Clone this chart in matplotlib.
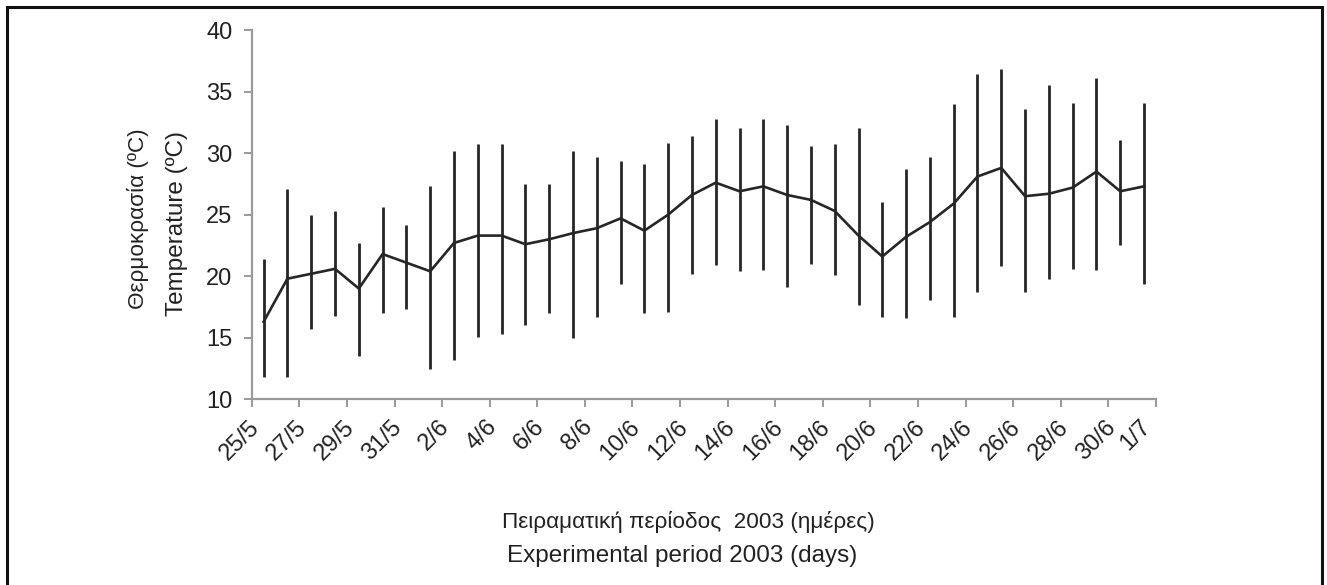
import numpy as np
import matplotlib.pyplot as plt
from matplotlib.patches import Rectangle

plt.rcParams['font.family'] = ['Liberation Sans', 'DejaVu Sans']

# Daily air temperature, 25 May - 1 July 2003
days = ['25/5', '26/5', '27/5', '28/5', '29/5', '30/5', '31/5',
        '1/6', '2/6', '3/6', '4/6', '5/6', '6/6', '7/6', '8/6', '9/6',
        '10/6', '11/6', '12/6', '13/6', '14/6', '15/6', '16/6', '17/6',
        '18/6', '19/6', '20/6', '21/6', '22/6', '23/6', '24/6', '25/6',
        '26/6', '27/6', '28/6', '29/6', '30/6', '1/7']
t_mean = [16.3, 19.8, 20.2, 20.6, 19.0, 21.8, 21.1, 20.4, 22.7, 23.3,
          23.3, 22.6, 23.0, 23.5, 23.9, 24.7, 23.7, 25.0, 26.6, 27.6,
          26.9, 27.3, 26.6, 26.2, 25.3, 23.3, 21.6, 23.2, 24.4, 25.9,
          28.1, 28.8, 26.5, 26.7, 27.2, 28.5, 26.9, 27.3]
t_max = [21.4, 27.1, 25.0, 25.3, 22.7, 25.6, 24.2, 27.3, 30.2, 30.7,
         30.7, 27.5, 27.5, 30.2, 29.7, 29.4, 29.1, 30.8, 31.4, 32.8,
         32.0, 32.8, 32.3, 30.6, 30.7, 32.0, 26.0, 28.7, 29.7, 34.0,
         36.4, 36.8, 33.6, 35.5, 34.1, 36.1, 31.1, 34.1]
t_min = [11.8, 11.8, 15.7, 16.8, 13.5, 17.0, 17.3, 12.5, 13.2, 15.1,
         15.3, 16.0, 17.0, 15.0, 16.7, 19.4, 17.0, 17.1, 20.2, 20.9,
         20.4, 20.5, 19.1, 21.0, 20.1, 17.7, 16.7, 16.6, 18.1, 16.7,
         18.7, 20.8, 18.7, 19.8, 20.6, 20.5, 22.5, 19.4]

x = np.arange(len(days))
label_idx = list(range(0, len(days) - 1, 2)) + [len(days) - 1]
# the last label is pushed to the end of the axis
label_pos = [float(i) for i in label_idx]
label_pos[-1] = len(days) - 0.55

fig = plt.figure(figsize=(13.27, 5.85), dpi=100)
ax = fig.add_axes([0.1897, 0.3174, 0.6814, 0.6313])

ink = '#262626'
ax.vlines(x, t_min, t_max, color=ink, linewidth=2.0)
ax.plot(x, t_mean, color=ink, linewidth=1.9)

ax.set_xlim(-0.5, len(days) - 0.5)
ax.set_ylim(10, 40)
ax.set_yticks(np.arange(10, 41, 5))

# tick marks sit between day pairs, labels under the days themselves
ax.set_xticks(np.arange(-0.5, len(days), 2))
ax.set_xticklabels([])
ax.set_xticks(label_pos, minor=True)
ax.set_xticklabels([days[i] for i in label_idx], minor=True,
                   rotation=45, ha='right', va='top')

grey = '#9a9a9a'
for side in ['top', 'right']:
    ax.spines[side].set_visible(False)
for side in ['left', 'bottom']:
    ax.spines[side].set_color(grey)
    ax.spines[side].set_linewidth(1.6)
ax.tick_params(axis='both', which='major', direction='out', length=6,
               width=1.4, color=grey, labelsize=17, labelcolor='#222222')
ax.tick_params(axis='x', which='minor', length=0, pad=12,
               labelsize=17, labelcolor='#222222')
ax.tick_params(axis='y', pad=8)

fig.text(0.1040, 0.626, 'Θερμοκρασία (ºC)', rotation=90, ha='center',
         va='center', fontsize=16.2, color='#222222')
fig.text(0.1334, 0.618, 'Temperature (ºC)', rotation=90, ha='center',
         va='center', fontsize=17.5, color='#222222')
fig.text(0.519, 0.108, 'Πειραματική περίοδος  2003 (ημέρες)', ha='center',
         va='center', fontsize=16.2, color='#222222')
fig.text(0.514, 0.050, 'Experimental period 2003 (days)', ha='center',
         va='center', fontsize=17.5, color='#222222')

# outer frame
fig.patches.append(Rectangle((7 / 1327, -0.05), 1315 / 1327, 1.05 - 7 / 585,
                             transform=fig.transFigure, fill=False,
                             edgecolor='#111111', linewidth=2.2))

fig.savefig('out.png', dpi=100, facecolor='white')
